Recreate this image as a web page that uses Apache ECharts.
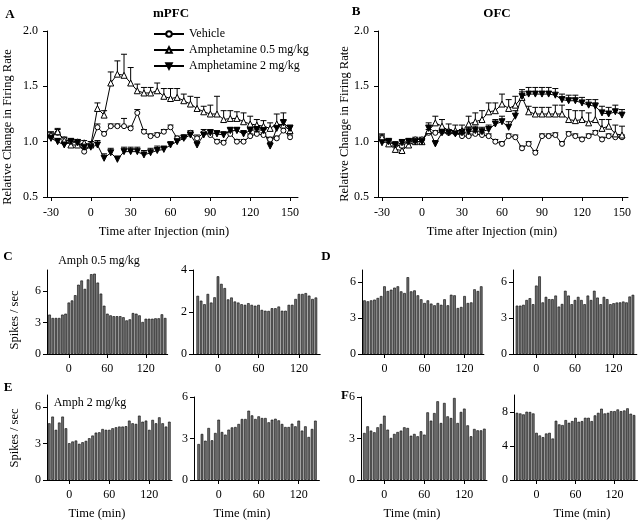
<!DOCTYPE html>
<html>
<head>
<meta charset="utf-8">
<script src="https://cdn.jsdelivr.net/npm/echarts@6/dist/echarts.min.js"></script>
<style>
html, body { margin: 0; padding: 0; background: #fff; }
#chart { width: 640px; height: 521px; }
</style>
</head>
<body>
<div id="chart"></div>
<script>
// time bins (min after injection), 5 min each
const times = [-30,-25,-20,-15,-10,-5,0,5,10,15,20,25,30,35,40,45,50,55,60,65,70,75,80,85,90,95,100,105,110,115,120,125,130,135,140,145,150];
const lineTicks = [-30,0,30,60,90,120,150];
const rateTicks = [0.5,1.0,1.5,2.0];
const barTicks = [0,60,120];
const names = ['Vehicle','Amphetamine 0.5 mg/kg','Amphetamine 2 mg/kg'];

// panel A, mPFC
const vehA = [1.05,1.08,1.02,1.00,1.00,0.91,0.97,1.13,1.07,1.14,1.14,1.14,1.12,1.26,1.09,1.05,1.06,1.09,1.13,1.03,1.04,1.08,1.03,1.08,1.06,1.00,0.99,1.07,1.00,1.00,1.05,1.07,1.06,1.02,1.03,1.10,1.04];
const errVehA = [0.03,0.03,0.02,0.02,0.02,0.03,0.03,0.03,0.02,0.02,0.02,0.07,0.02,0.03,0.02,0.02,0.02,0.02,0.02,0.02,0.02,0.02,0.03,0.03,0.02,0.02,0.02,0.02,0.02,0.02,0.02,0.02,0.02,0.02,0.02,0.03,0.02];
const a05A = [1.06,1.09,1.01,0.97,0.97,0.99,0.97,1.30,1.24,1.53,1.61,1.60,1.53,1.46,1.44,1.44,1.46,1.41,1.39,1.40,1.37,1.34,1.30,1.27,1.25,1.25,1.20,1.21,1.21,1.18,1.16,1.15,1.14,1.12,1.16,1.15,1.10];
const errA05A = [0.03,0.03,0.03,0.03,0.03,0.02,0.03,0.05,0.04,0.10,0.12,0.19,0.14,0.06,0.05,0.05,0.07,0.07,0.09,0.08,0.06,0.07,0.10,0.05,0.08,0.16,0.08,0.07,0.06,0.08,0.07,0.05,0.05,0.05,0.09,0.05,0.04];
const a2A = [1.03,1.00,0.97,1.00,0.99,0.95,0.95,0.97,0.85,0.90,0.84,0.91,0.91,0.91,0.88,0.90,0.92,0.93,0.97,1.00,1.03,1.06,0.97,1.06,1.08,1.07,1.06,1.10,1.10,1.07,1.10,1.11,1.10,0.96,1.12,1.17,1.12];
const errA2A = [0.03,0.03,0.03,0.03,0.03,0.03,0.03,0.04,0.04,0.04,0.03,0.04,0.04,0.04,0.04,0.04,0.04,0.03,0.03,0.03,0.03,0.03,0.03,0.03,0.03,0.03,0.03,0.03,0.03,0.03,0.03,0.03,0.03,0.03,0.03,0.09,0.03];

// panel B, OFC
const vehB = [1.04,1.00,0.97,0.96,1.00,1.02,1.02,1.08,1.08,1.09,1.08,1.08,1.05,1.05,1.07,1.06,1.05,1.00,0.98,1.05,1.04,0.94,0.98,0.90,1.05,1.05,1.06,0.98,1.07,1.05,1.02,1.05,1.08,1.02,1.05,1.04,1.04];
const errVehB = [0.02,0.02,0.02,0.02,0.02,0.02,0.02,0.03,0.02,0.02,0.02,0.02,0.02,0.02,0.02,0.02,0.02,0.02,0.02,0.02,0.02,0.02,0.02,0.02,0.02,0.02,0.02,0.02,0.02,0.02,0.02,0.02,0.02,0.02,0.02,0.02,0.02];
const a05B = [1.04,0.98,0.93,0.92,0.97,1.00,1.00,1.10,1.17,1.14,1.10,1.10,1.10,1.16,1.18,1.20,1.27,1.28,1.34,1.30,1.33,1.40,1.27,1.25,1.25,1.25,1.25,1.25,1.20,1.19,1.20,1.17,1.20,1.12,1.14,1.07,1.06];
const errA05B = [0.03,0.03,0.03,0.03,0.03,0.03,0.03,0.05,0.06,0.06,0.06,0.05,0.05,0.07,0.08,0.08,0.08,0.07,0.09,0.08,0.08,0.05,0.05,0.06,0.06,0.06,0.08,0.08,0.09,0.09,0.08,0.09,0.15,0.08,0.06,0.08,0.08];
const a2B = [0.99,1.00,0.97,0.99,1.00,1.00,1.00,1.12,0.98,1.08,1.08,1.07,1.08,1.09,1.10,1.09,1.11,1.16,1.18,1.13,1.23,1.41,1.43,1.43,1.43,1.43,1.42,1.38,1.37,1.37,1.35,1.33,1.32,1.26,1.25,1.27,1.24];
const errA2B = [0.03,0.03,0.03,0.03,0.03,0.03,0.03,0.05,0.03,0.03,0.03,0.03,0.03,0.04,0.04,0.04,0.04,0.04,0.05,0.05,0.05,0.06,0.06,0.06,0.06,0.06,0.06,0.05,0.05,0.05,0.05,0.05,0.06,0.06,0.06,0.06,0.05];

// single cell histograms (spikes / sec)
const c1 = [3.75,3.43,3.43,3.43,3.75,3.84,4.9,5.1,5.6,6.6,7.0,6.2,7.1,7.6,7.65,6.8,5.75,4.6,3.84,3.68,3.6,3.6,3.6,3.5,3.2,3.3,3.9,3.84,3.68,3.05,3.36,3.36,3.36,3.4,3.4,3.78,3.43];
const c2 = [2.77,2.54,2.37,2.86,2.45,2.7,3.7,3.34,3.14,2.6,2.69,2.5,2.45,2.37,2.34,2.42,2.34,2.3,2.34,2.1,2.06,2.05,2.18,2.18,2.26,2.06,2.06,2.34,2.34,2.62,2.86,2.86,2.9,2.78,2.62,2.69];
const d1 = [4.47,4.39,4.47,4.53,4.67,4.83,5.64,5.25,5.36,5.53,5.64,5.22,5.08,6.4,5.22,5.3,4.89,4.56,4.25,4.47,4.2,4.06,4.25,4.1,4.56,4.06,4.94,4.89,3.83,3.92,4.83,4.25,4.3,5.39,5.25,5.64];
const d2 = [4.03,4.03,4.1,4.5,4.65,4.15,5.7,6.47,4.3,4.76,4.57,4.57,4.87,3.95,4.17,5.27,4.87,4.15,4.5,4.76,4.5,4.15,4.87,4.5,5.27,4.7,4.15,4.76,4.57,4.15,4.23,4.29,4.3,4.37,4.3,4.79,4.93];
const e1 = [4.67,5.22,4.13,4.73,5.22,4.26,3.03,3.17,3.25,2.98,3.11,3.22,3.44,3.66,3.9,3.93,4.2,4.13,4.13,4.26,4.34,4.4,4.4,4.43,4.89,4.67,4.62,5.3,4.8,4.89,4.13,4.95,4.67,5.16,4.67,4.4,4.8];
const e2 = [2.6,3.33,2.84,3.76,2.87,3.4,4.36,3.47,3.28,3.64,3.8,3.83,4.05,4.41,4.41,5.01,4.67,4.41,4.6,4.48,4.48,4.17,4.36,4.43,4.31,4.05,3.83,3.83,4.07,3.88,4.29,3.57,3.88,3.11,3.69,4.29];
const f1 = [3.4,3.88,3.57,3.45,3.81,4.05,4.65,3.64,3.04,3.33,3.47,3.57,3.81,3.76,3.2,3.33,3.16,3.52,3.28,4.89,4.29,4.84,5.69,4.12,5.57,4.6,4.48,5.93,4.12,4.92,5.16,3.95,3.16,3.69,3.59,3.59,3.71];
const f2 = [7.9,7.83,7.72,8.03,8.0,7.83,5.55,5.24,5.04,5.47,5.55,4.88,6.97,6.54,6.46,7.05,6.73,6.93,7.32,6.85,6.93,7.32,7.32,6.93,7.6,7.9,8.39,7.83,7.9,8.1,8.1,8.3,8.1,8.18,8.43,7.8,7.64];

const font = '"Liberation Serif", "Times New Roman", serif';

function pairs(vals) {
  return vals.map((v, i) => [times[i], v]);
}
function errPairs(vals, errs) {
  return vals.map((v, i) => [times[i], v, errs[i]]);
}

function renderErr(params, api) {
  const t = api.value(0);
  const v = api.value(1);
  const e = api.value(2);
  const base = api.coord([t, v]);
  const top = api.coord([t, v + e]);
  const st = { stroke: '#000', lineWidth: 1 };
  return {
    type: 'group',
    children: [
      { type: 'line', shape: { x1: base[0], y1: base[1], x2: top[0], y2: top[1] }, style: st },
      { type: 'line', shape: { x1: top[0] - 3, y1: top[1], x2: top[0] + 3, y2: top[1] }, style: st }
    ]
  };
}

const axisLine = { show: true, onZero: false, lineStyle: { color: '#000', width: 1 } };
const labelBase = { color: '#000', fontFamily: font, fontSize: 12 };

function xAxisFor(gi, min, max, ticks, margin) {
  return {
    type: 'value', gridIndex: gi, min: min, max: max,
    axisLine: axisLine,
    axisTick: { show: true, customValues: ticks, length: 4, lineStyle: { color: '#000' } },
    axisLabel: Object.assign({ customValues: ticks, margin: margin }, labelBase),
    splitLine: { show: false }
  };
}
function yAxisFor(gi, min, max, ticks, fmt, margin) {
  return {
    type: 'value', gridIndex: gi, min: min, max: max,
    axisLine: axisLine,
    axisTick: { show: true, customValues: ticks, length: 4, lineStyle: { color: '#000' } },
    axisLabel: Object.assign({ customValues: ticks, margin: margin, formatter: fmt }, labelBase),
    splitLine: { show: false }
  };
}

const grids = [];
const xAxes = [];
const yAxes = [];
const series = [];

// line panels
function addLinePanel(gi, left, width, xmax, veh, errVeh, a05, errA05, a2, errA2) {
  grids.push({ left: left, top: 31, width: width, height: 166 });
  xAxes.push(xAxisFor(gi, -33, xmax, lineTicks, 10));
  yAxes.push(yAxisFor(gi, 0.5, 2.0, rateTicks, (v) => v.toFixed(1), 9));
  const errSets = [[veh, errVeh], [a05, errA05], [a2, errA2]];
  errSets.forEach((s) => {
    series.push({
      type: 'custom', xAxisIndex: gi, yAxisIndex: gi, z: 1,
      renderItem: renderErr, data: errPairs(s[0], s[1]),
      encode: { x: 0, y: 1 }, silent: true
    });
  });
  const lineStyle = { color: '#000', width: 1 };
  series.push({
    name: names[0], type: 'line', xAxisIndex: gi, yAxisIndex: gi, z: 3,
    data: pairs(veh), symbol: 'circle', symbolSize: 5,
    lineStyle: lineStyle, itemStyle: { color: '#fff', borderColor: '#000', borderWidth: 1 }
  });
  series.push({
    name: names[1], type: 'line', xAxisIndex: gi, yAxisIndex: gi, z: 3,
    data: pairs(a05), symbol: 'triangle', symbolSize: 6,
    lineStyle: lineStyle, itemStyle: { color: '#fff', borderColor: '#000', borderWidth: 1 }
  });
  series.push({
    name: names[2], type: 'line', xAxisIndex: gi, yAxisIndex: gi, z: 3,
    data: pairs(a2), symbol: 'triangle', symbolRotate: 180, symbolSize: 6,
    lineStyle: lineStyle, itemStyle: { color: '#000', borderColor: '#000', borderWidth: 1 }
  });
}

addLinePanel(0, 47, 251, 156, vehA, errVehA, a05A, errA05A, a2A, errA2A);
addLinePanel(1, 378, 250, 154.5, vehB, errVehB, a05B, errA05B, a2B, errA2B);

// bar panels: [values, left, top, width, height, xmin, xmax, ymax, yticks]
const barPanels = [
  [c1, 47, 270, 120.7, 84, -34, 154, 8, [0,3,6]],
  [c2, 193, 270, 127.2, 84, -37, 151.4, 4, [0,2,4]],
  [d1, 362, 270, 121.9, 84, -33.7, 149, 7, [0,3,6]],
  [d2, 513, 270, 123.8, 84, -36.2, 156, 7, [0,3,6]],
  [e1, 47, 395, 125, 85, -33.4, 154, 7, [0,3,6]],
  [e2, 194, 397, 125.4, 83, -37, 151, 6, [0,3,6]],
  [f1, 361, 397, 126, 83, -35, 154, 6, [0,3,6]],
  [f2, 514, 395, 123.5, 85, -34.6, 155.4, 10, [0,4,8]]
];

barPanels.forEach((p, k) => {
  const gi = k + 2;
  grids.push({ left: p[1], top: p[2], width: p[3], height: p[4] });
  xAxes.push(xAxisFor(gi, p[5], p[6], barTicks, 9));
  yAxes.push(yAxisFor(gi, 0, p[7], p[8], (v) => String(v), 6));
  series.push({
    type: 'bar', xAxisIndex: gi, yAxisIndex: gi,
    data: pairs(p[0]), barWidth: 2.6,
    itemStyle: { color: '#707070', borderColor: '#000', borderWidth: 0.6 },
    silent: true
  });
});

function txt(x, y, s, size, bold, rotate) {
  return {
    type: 'text', x: x, y: y, rotation: rotate ? Math.PI / 2 : 0,
    style: {
      text: s, fill: '#000', font: (bold ? 'bold ' : '') + size + 'px ' + font,
      align: 'center', verticalAlign: 'middle'
    }
  };
}

const texts = [
  txt(10, 15, 'A', 13, true), txt(356, 12, 'B', 13, true),
  txt(171, 14, 'mPFC', 13, true), txt(497, 14, 'OFC', 13, true),
  txt(8, 127, 'Relative Change in Firing Rate', 12.5, false, true),
  txt(345, 124, 'Relative Change in Firing Rate', 12.5, false, true),
  txt(164, 232, 'Time after Injection (min)', 12.5), txt(492, 232, 'Time after Injection (min)', 12.5),
  txt(8, 257, 'C', 13, true), txt(326, 257, 'D', 13, true),
  txt(8, 388, 'E', 13, true), txt(345, 396, 'F', 13, true),
  txt(99, 261, 'Amph 0.5 mg/kg', 12), txt(90, 403, 'Amph 2 mg/kg', 12),
  txt(15, 320, 'Spikes / sec', 12.5, false, true), txt(15, 438, 'Spikes / sec', 12.5, false, true),
  txt(97, 514, 'Time (min)', 12.5), txt(242, 514, 'Time (min)', 12.5),
  txt(412, 514, 'Time (min)', 12.5), txt(582, 514, 'Time (min)', 12.5)
];

const chart = echarts.init(document.getElementById('chart'), null, { renderer: 'canvas' });
chart.setOption({
  animation: false,
  backgroundColor: '#fff',
  legend: {
    data: names, orient: 'vertical', left: 148, top: 22,
    itemWidth: 30, itemHeight: 7, itemGap: 2, selectedMode: false,
    textStyle: { color: '#000', fontFamily: font, fontSize: 12, lineHeight: 14 }
  },
  grid: grids,
  xAxis: xAxes,
  yAxis: yAxes,
  series: series,
  graphic: texts
});
</script>
</body>
</html>
